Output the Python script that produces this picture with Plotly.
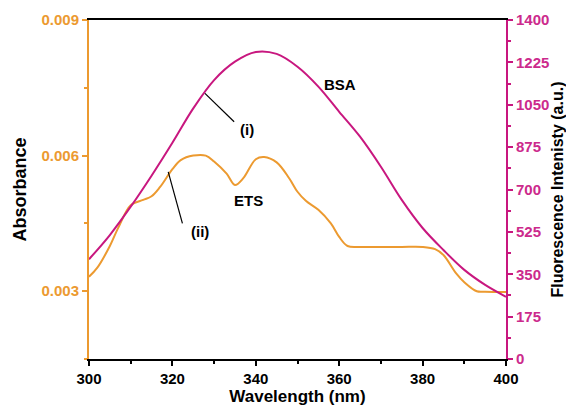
import plotly.graph_objects as go

# BSA fluorescence (right axis)
bsa_x = [300, 305, 310, 315, 320, 325, 330, 335, 340, 345, 350, 355, 360, 365, 370, 375, 380, 385, 390, 395, 400]
bsa_y = [412, 512, 629, 757, 893, 1035, 1152, 1228, 1268, 1260, 1207, 1125, 1021, 918, 794, 657, 541, 450, 368, 306, 257]

# ETS absorbance (left axis)
ets_x = [300, 302, 305, 307, 310, 313, 315, 317, 320, 322, 325, 328, 330, 333, 335, 337, 340, 342, 345, 348, 350,
         352, 355, 358, 360, 362, 365, 370, 375, 380, 383, 385, 388, 390, 393, 395, 400]
ets_y = [0.00332, 0.00352, 0.0040, 0.0044, 0.0049, 0.00502, 0.0051, 0.0053, 0.0057, 0.0059, 0.0060, 0.0060, 0.00587,
         0.0056, 0.00535, 0.0055, 0.00592, 0.00597, 0.00585, 0.0055, 0.0052, 0.0050, 0.0048, 0.0045, 0.0042, 0.0040,
         0.00398, 0.00398, 0.00398, 0.00398, 0.00393, 0.0038, 0.0034, 0.0032, 0.0030, 0.00299, 0.00298]

right_ticks = [0, 175, 350, 525, 700, 875, 1050, 1225, 1400]
left_ticks = [0.003, 0.006, 0.009]
left_labels = ["0.003", "0.006", "0.009"]

ORANGE = "#EC9A30"
MAGENTA = "#C8177F"
FONT = "Liberation Sans, Arial, sans-serif"

fig = go.Figure()
fig.add_trace(go.Scatter(x=bsa_x, y=bsa_y, mode="lines", line=dict(color=MAGENTA, width=2, shape="spline"),
                         yaxis="y2", showlegend=False))
fig.add_trace(go.Scatter(x=ets_x, y=ets_y, mode="lines", line=dict(color=ORANGE, width=2, shape="spline"),
                         yaxis="y", showlegend=False))

# page body has an 8px offset, so the figure is 566x399 and margins are shifted accordingly
fig.update_layout(
    width=566, height=399,
    margin=dict(l=81, r=68, t=12, b=48),
    paper_bgcolor="white", plot_bgcolor="white",
    font=dict(family=FONT, size=12, color="black"),
    xaxis=dict(range=[300, 400], tickvals=[300, 320, 340, 360, 380, 400], showgrid=False, zeroline=False,
               automargin=False,
               showline=True, linecolor="black", linewidth=2, mirror=True,
               ticks="outside", ticklen=5, tickwidth=2, tickcolor="black",
               minor=dict(dtick=10, tick0=300, ticks="outside", ticklen=3, tickwidth=1.5, tickcolor="black"),
               tickfont=dict(family=FONT, size=15, color="black", weight="bold"),
               title=dict(text="<b>Wavelength (nm)</b>", font=dict(family=FONT, size=17, color="black"), standoff=1)),
    yaxis=dict(range=[0.0015, 0.009], tickvals=left_ticks, ticktext=left_labels, showgrid=False, zeroline=False,
               automargin=False,
               showline=True, linecolor=ORANGE, linewidth=2,
               ticks="outside", ticklen=5, tickwidth=2, tickcolor=ORANGE,
               minor=dict(tickvals=[0.0015, 0.0045, 0.0075], ticks="outside", ticklen=3, tickwidth=1.5, tickcolor=ORANGE),
               tickfont=dict(family=FONT, size=15, color=ORANGE, weight="bold"),
               title=dict(text="<b>Absorbance</b>", font=dict(family=FONT, size=18, color="black"), standoff=10)),
    yaxis2=dict(range=[0, 1400], tickvals=right_ticks, overlaying="y", side="right", showgrid=False, zeroline=False,
                automargin=False,
                showline=True, linecolor=MAGENTA, linewidth=2,
                ticks="outside", ticklen=5, tickwidth=2, tickcolor=MAGENTA,
                minor=dict(dtick=87.5, tick0=0, ticks="outside", ticklen=3, tickwidth=1.5, tickcolor=MAGENTA),
                tickfont=dict(family=FONT, size=15, color="#CC2A8C", weight="bold"),
                title=dict(text="<b>Fluorescence Intenisty (a.u.)</b>", font=dict(family=FONT, size=16, color="black"), standoff=3)),
)

ann = dict(xref="x", yref="y2", showarrow=False, font=dict(family=FONT, size=15, color="black"))
fig.add_annotation(x=360.2, y=1132, text="<b>BSA</b>", **ann)
fig.add_annotation(x=338.2, y=654, text="<b>ETS</b>", **ann)
fig.add_annotation(x=337.8, y=946, text="<b>(i)</b>", **ann)
fig.add_annotation(x=326.6, y=526, text="<b>(ii)</b>", **ann)

fig.add_shape(type="line", xref="x", yref="y2", x0=327.8, y0=1097, x1=334.8, y1=980, line=dict(color="black", width=1.2))
fig.add_shape(type="line", xref="x", yref="y2", x0=319.0, y0=773, x1=322.4, y1=560, line=dict(color="black", width=1.2))

fig.write_html("out.html")
